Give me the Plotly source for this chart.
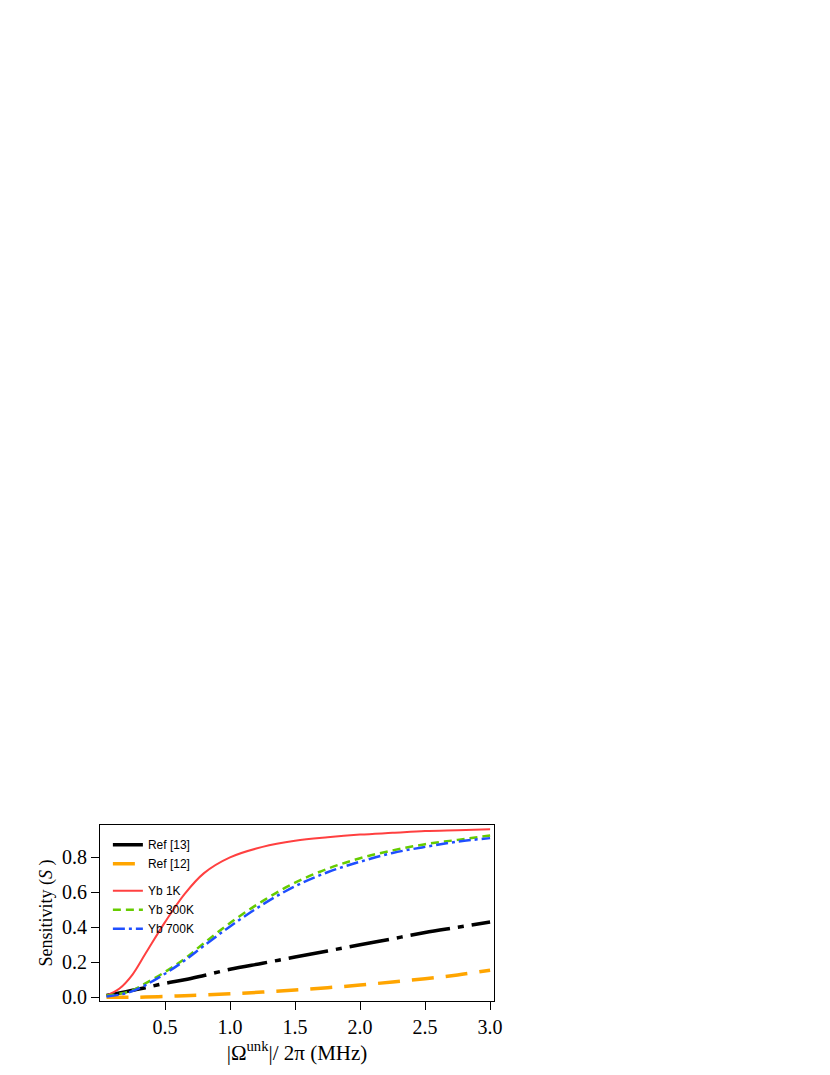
import plotly.graph_objects as go

x = [0.05, 0.15, 0.25, 0.35, 0.5, 0.65, 0.8, 1.0, 1.25, 1.5, 1.75, 2.0, 2.25, 2.5, 2.75, 3.0]
yb_1k = [0.01, 0.05, 0.13, 0.25, 0.43, 0.59, 0.71, 0.80, 0.86, 0.895, 0.915, 0.93, 0.94, 0.95, 0.955, 0.96]
yb_300k = [0.01, 0.02, 0.04, 0.08, 0.145, 0.22, 0.31, 0.425, 0.55, 0.655, 0.735, 0.795, 0.84, 0.875, 0.90, 0.925]
yb_700k = [0.005, 0.015, 0.035, 0.07, 0.135, 0.21, 0.295, 0.405, 0.53, 0.635, 0.715, 0.775, 0.825, 0.86, 0.89, 0.91]
ref13 = [0.01, 0.025, 0.04, 0.055, 0.08, 0.10, 0.125, 0.16, 0.195, 0.23, 0.265, 0.30, 0.335, 0.37, 0.40, 0.43]
ref12 = [0.0, 0.0, 0.0, 0.002, 0.005, 0.009, 0.013, 0.02, 0.03, 0.042, 0.055, 0.07, 0.088, 0.106, 0.128, 0.155]

series = [
    ("Ref [13]", ref13, "black", "40px,8px,6px,8px", 3.5, "a"),
    ("Ref [12]", ref12, "#ffa500", "22px,12px", 3.5, "a"),
    ("Yb 1K", yb_1k, "#ff4040", "solid", 2, "b"),
    ("Yb 300K", yb_300k, "#66cc00", "8px,5px", 2.5, "b"),
    ("Yb 700K", yb_700k, "#1f4fff", "12px,4px,3px,4px", 2.5, "b"),
]

fig = go.Figure()
for name, y, color, dash, w, grp in series:
    fig.add_trace(go.Scatter(x=x, y=y, name=name, mode="lines", legendgroup=grp,
                             line=dict(color=color, dash=dash, width=w, shape="spline")))

axis_common = dict(showline=True, linecolor="black", linewidth=1.2, mirror=True,
                   ticks="outside", ticklen=8, tickcolor="black", showgrid=False, zeroline=False,
                   automargin=False,
                   tickfont=dict(family="Liberation Serif", size=20, color="black"))
fig.update_xaxes(range=[0, 3.03], tickvals=[0.5, 1.0, 1.5, 2.0, 2.5, 3.0], tickformat=".1f",
                 title=dict(text="|Ω<sup>unk</sup>|/ 2π (MHz)", font=dict(family="Liberation Serif", size=21, color="black"), standoff=6),
                 **axis_common)
fig.update_yaxes(range=[-0.021, 0.985], tickvals=[0, 0.2, 0.4, 0.6, 0.8], tickformat=".1f",
                 title=dict(text="Sensitivity (<i>S</i> )", font=dict(family="Liberation Serif", size=18, color="black"), standoff=4),
                 **axis_common)
fig.update_layout(
    width=830, height=1075, plot_bgcolor="white", paper_bgcolor="white",
    margin=dict(l=92, r=344, t=817, b=82, autoexpand=False),
    showlegend=True,
    legend=dict(x=0.02, y=0.97, xanchor="left", yanchor="top", bgcolor="rgba(0,0,0,0)",
                font=dict(family="Liberation Sans", size=12, color="black"),
                tracegroupgap=8, itemwidth=30),
)
fig.write_html("out.html")
